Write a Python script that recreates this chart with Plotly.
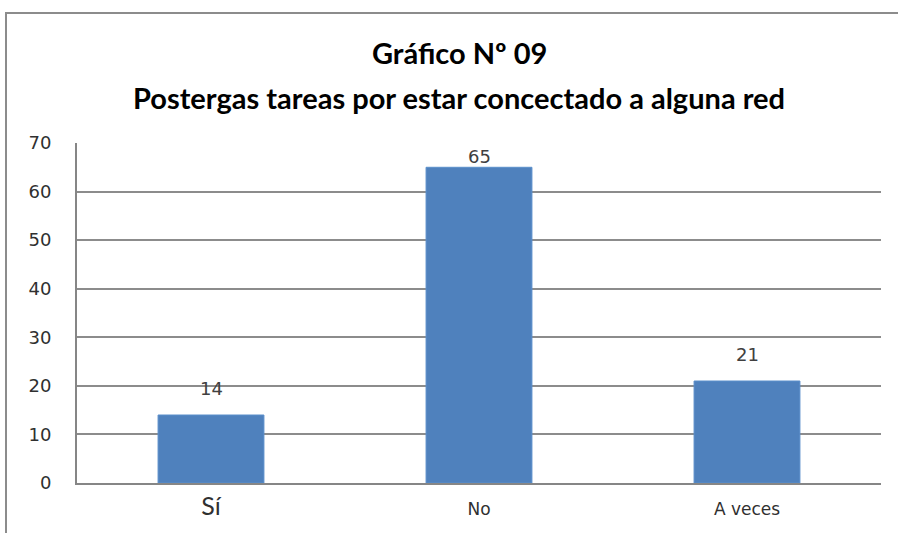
import plotly.graph_objects as go

categories = ["Sí", "No", "A veces"]
values = [14, 65, 21]
tick_labels = ["Sí", "No", "A veces"]
y_ticks = [0, 10, 20, 30, 40, 50, 60, 70]
title_line1 = "Gráfico Nº 09"
title_line2 = "Postergas tareas por estar concectado a alguna red"

W, H = 898, 533
L, R, T, B = 77, 17, 143, 50
pw, ph = W - L - R, H - T - B

def px_to_paper_x(px):
    return (px - L) / pw

def px_to_paper_y(py):
    return (H - B - py) / ph

ticktext = [
    '<span style="font-size:25px;font-family:Lato">' + tick_labels[0] + '</span>',
    '<span style="font-size:17px">' + tick_labels[1] + '</span>',
    '<span style="font-size:17px">' + tick_labels[2] + '</span>',
]

fig = go.Figure(go.Bar(
    x=categories, y=values,
    marker=dict(color="#4F81BD", line=dict(color="#5B8FCB", width=1)),
    cliponaxis=False,
))

label_shift = [27, 11, 27]
for c, v, s in zip(categories, values, label_shift):
    fig.add_annotation(
        x=c, y=v, text=str(v), showarrow=False, yanchor="middle", yshift=s,
        font=dict(family="DejaVu Sans", size=18, color="#404040"),
    )

for txt, py in [(title_line1, 52), (title_line2, 97)]:
    fig.add_annotation(
        xref="paper", yref="paper", x=px_to_paper_x(459), y=px_to_paper_y(py),
        xanchor="center", yanchor="middle", showarrow=False,
        text="<b>" + txt + "</b>",
        font=dict(family="Lato", size=29, color="#000000"),
    )

fig.update_layout(
    width=W, height=H,
    margin=dict(l=L, r=R, t=T, b=B),
    paper_bgcolor="white", plot_bgcolor="white",
    showlegend=False, bargap=0.605,
    font=dict(family="DejaVu Sans", color="#404040"),
)
fig.update_xaxes(
    tickvals=categories, ticktext=ticktext,
    showline=True, linecolor="#868686", linewidth=2,
    showgrid=False, ticks="", tickfont=dict(size=17, color="#303030"),
    ticklabelstandoff=10,
)
fig.update_yaxes(
    range=[0, 70], tickvals=y_ticks,
    showline=True, linecolor="#868686", linewidth=2,
    showgrid=True, gridcolor="#8C8C8C", gridwidth=1.5,
    zeroline=False, ticks="", tickfont=dict(size=18, color="#303030"),
    ticklabelstandoff=20,
)
fig.add_shape(
    type="rect", xref="paper", yref="paper",
    x0=px_to_paper_x(6), x1=px_to_paper_x(910),
    y0=px_to_paper_y(545), y1=px_to_paper_y(13),
    line=dict(color="#8C8C8C", width=2), fillcolor="rgba(0,0,0,0)", layer="below",
)
fig.write_html("out.html", config={"displayModeBar": False},
               post_script="document.body.style.margin='0';")
